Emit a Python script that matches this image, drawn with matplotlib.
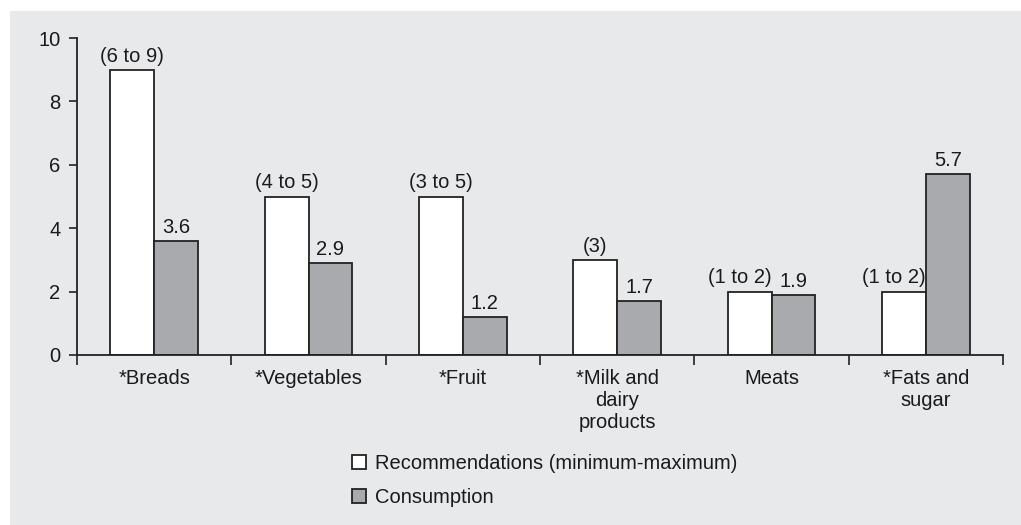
import matplotlib
matplotlib.use("Agg")
import matplotlib.pyplot as plt
from matplotlib.patches import Rectangle
import numpy as np

plt.rcParams["font.family"] = ["Liberation Sans", "DejaVu Sans"]

CATEGORIES = [
    "*Breads",
    "*Vegetables",
    "*Fruit",
    "*Milk and\ndairy\nproducts",
    "Meats",
    "*Fats and\nsugar",
]
RECOMMENDED_MAX = [9, 5, 5, 3, 2, 2]
RECOMMENDED_LABELS = ["(6 to 9)", "(4 to 5)", "(3 to 5)", "(3)", "(1 to 2)", "(1 to 2)"]
CONSUMPTION = [3.6, 2.9, 1.2, 1.7, 1.9, 5.7]
Y_TICKS = [0, 2, 4, 6, 8, 10]

BG = "#e8e9eb"
GRAY_BAR = "#a9aaae"
EDGE = "#222222"
TEXT = "#1a1a1a"
FS = 14.5

fig = plt.figure(figsize=(10.21, 5.25), dpi=100, facecolor="white")
fig.add_artist(
    Rectangle((10 / 1021, 0), 1, 1 - 11 / 525, transform=fig.transFigure,
              facecolor=BG, edgecolor="none", zorder=-5)
)

ax = fig.add_axes([77 / 1021, 1 - 355 / 525, (1003 - 77) / 1021, (355 - 38) / 525])
ax.set_facecolor("none")

x = np.arange(len(CATEGORIES))
w = 0.285
bars_rec = ax.bar(x - w / 2, RECOMMENDED_MAX, w, color="white", edgecolor=EDGE,
                  linewidth=1.3, label="Recommendations (minimum-maximum)")
bars_con = ax.bar(x + w / 2, CONSUMPTION, w, color=GRAY_BAR, edgecolor=EDGE,
                  linewidth=1.3, label="Consumption")

for i, (bar, lab) in enumerate(zip(bars_rec, RECOMMENDED_LABELS)):
    # the narrow meats/fats pairs get their labels pushed to the left
    if RECOMMENDED_MAX[i] <= 2:
        xpos, ha = bar.get_x() + bar.get_width(), "right"
    else:
        xpos, ha = bar.get_x() + bar.get_width() / 2, "center"
    ax.annotate(lab, (xpos, bar.get_height()), xytext=(0, 3), textcoords="offset points",
                ha=ha, va="bottom", fontsize=FS, color=TEXT)

for bar, val in zip(bars_con, CONSUMPTION):
    ax.annotate(f"{val:.1f}", (bar.get_x() + bar.get_width() / 2, bar.get_height()),
                xytext=(0, 3), textcoords="offset points", ha="center", va="bottom",
                fontsize=FS, color=TEXT)

ax.set_xlim(-0.5, len(CATEGORIES) - 0.5)
ax.set_ylim(0, 10)
ax.set_yticks(Y_TICKS)
ax.tick_params(axis="y", direction="out", length=6, width=1.2, labelsize=FS,
               colors=EDGE, labelcolor=TEXT, pad=6)

ax.set_xticks(np.arange(len(CATEGORIES) + 1) - 0.5)
ax.set_xticklabels([])
ax.tick_params(axis="x", which="major", direction="out", length=7, width=1.2, colors=EDGE)
ax.set_xticks(x, minor=True)
ax.set_xticklabels(CATEGORIES, minor=True, fontsize=FS, color=TEXT, linespacing=1.2)
ax.tick_params(axis="x", which="minor", length=0, pad=10)

for side in ["top", "right"]:
    ax.spines[side].set_visible(False)
for side in ["left", "bottom"]:
    ax.spines[side].set_linewidth(1.3)
    ax.spines[side].set_color(EDGE)

fig.legend(handles=[bars_rec, bars_con], loc="upper left",
           bbox_to_anchor=(334 / 1021, 1 - 436 / 525), frameon=False, fontsize=FS,
           handlelength=0.7, handleheight=0.7, handletextpad=0.45, labelspacing=0.75,
           labelcolor=TEXT)

fig.savefig("out.png", dpi=100, facecolor="white")
